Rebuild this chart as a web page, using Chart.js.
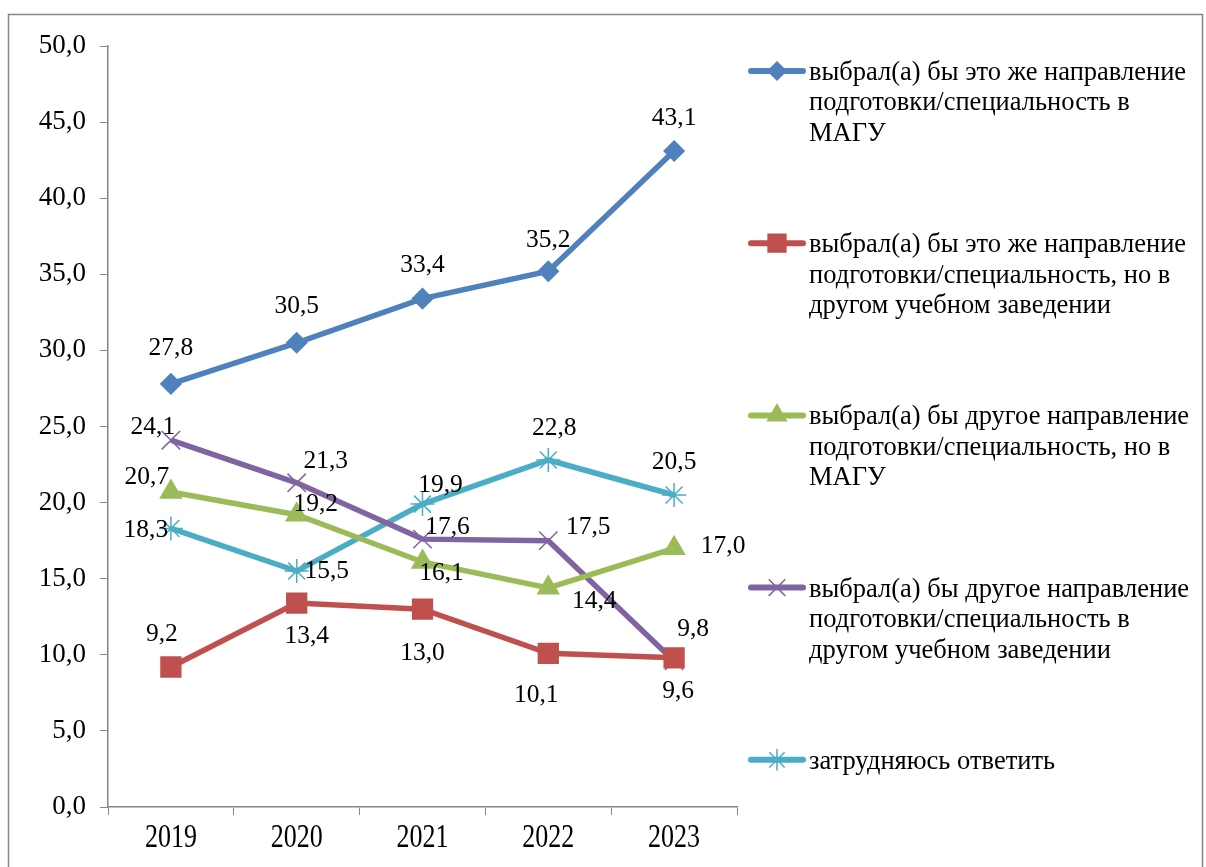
<!DOCTYPE html>
<html>
<head>
<meta charset="utf-8">
<script src="https://cdn.jsdelivr.net/npm/chart.js@4.4.1/dist/chart.umd.min.js"></script>
<style>
body{margin:0;background:#fff;}
#caja{width:1206px;height:867px;}
</style>
</head>
<body>
<div id="caja"><canvas id="miGrafico" width="1206" height="867"></canvas></div>
<script>
// DATOS
const anios = ['2019', '2020', '2021', '2022', '2023'];

const mismoMagu = [27.8, 30.5, 33.4, 35.2, 43.1];
const mismoOtro = [9.2, 13.4, 13.0, 10.1, 9.8];
const otroMagu = [20.7, 19.2, 16.1, 14.4, 17.0];
const otroOtro = [24.1, 21.3, 17.6, 17.5, 9.6];
const dificil = [18.3, 15.5, 19.9, 22.8, 20.5];

const nombres = [
  ['выбрал(а) бы это же направление', 'подготовки/специальность в', 'МАГУ'],
  ['выбрал(а) бы это же направление', 'подготовки/специальность, но в', 'другом учебном заведении'],
  ['выбрал(а) бы другое направление', 'подготовки/специальность, но в', 'МАГУ'],
  ['выбрал(а) бы другое направление', 'подготовки/специальность в', 'другом учебном заведении'],
  ['затрудняюсь ответить']
];

const FUENTE = "'Liberation Serif', 'Times New Roman', serif";
const GRIS = '#868686';

// posicion de las etiquetas respecto al punto (dx, dy)
const desplaz = [
  [[0,-36],[0,-36],[0,-33],[0,-31],[0,-33]],
  [[-9,-33],[10,33],[0,44],[-12,42],[19,-29]],
  [[-24,-15],[19,-10],[19,11],[46,13],[49,-2]],
  [[-18,-13],[29,-22],[25,-12],[40,-13],[4,30]],
  [[-25,2],[30,0],[18,-19],[6,-32],[0,-33]]
];

function fmt(v){
  return v.toFixed(1).replace('.', ',');
}

function serie(nombre, datos, color, estilo, radio){
  return {
    label: nombre.join(' '),
    data: datos,
    borderColor: color,
    backgroundColor: color,
    borderWidth: 5.5,
    pointStyle: estilo,
    pointRadius: radio,
    pointHoverRadius: radio,
    pointBackgroundColor: color,
    pointBorderColor: color,
    pointBorderWidth: 1.5,
    tension: 0
  };
}

// MARCO, ETIQUETAS, LEYENDA
const extras = {
  id: 'extras',
  beforeDraw(chart){
    const c = chart.ctx;
    c.save();
    c.strokeStyle = GRIS;
    c.lineWidth = 1.5;
    c.strokeRect(8.5, 14.5, 1194, 900);
    c.restore();
  },
  afterDraw(chart){
    const c = chart.ctx;
    c.save();
    c.fillStyle = '#000';
    c.textAlign = 'center';
    c.textBaseline = 'middle';

    // etiquetas del eje x
    const ex = chart.scales.x;
    c.font = '26px ' + FUENTE;
    anios.forEach((a, i) => {
      c.save();
      c.translate(ex.getPixelForValue(i), 838);
      c.scale(1, 1.3);
      c.fillText(a, 0, 0);
      c.restore();
    });

    // etiquetas de datos
    c.font = '25.5px ' + FUENTE;
    chart.data.datasets.forEach((ds, i) => {
      const meta = chart.getDatasetMeta(i);
      meta.data.forEach((p, j) => {
        const d = desplaz[i][j];
        c.fillText(fmt(ds.data[j]), p.x + d[0], p.y + d[1]);
      });
    });

    // leyenda
    c.textAlign = 'left';
    c.font = '26.5px ' + FUENTE;
    chart.data.datasets.forEach((ds, i) => {
      const y = 71 + i * 172.2;
      c.strokeStyle = ds.borderColor;
      c.lineWidth = 6;
      c.lineCap = 'round';
      c.beginPath();
      c.moveTo(751, y);
      c.lineTo(803, y);
      c.stroke();
      c.lineCap = 'butt';
      c.fillStyle = ds.borderColor;
      c.lineWidth = 1.5;
      Chart.helpers.drawPoint(c, {pointStyle: ds.pointStyle, radius: ds.pointRadius * 0.9, rotation: 0, borderWidth: 1.5}, 777, y);
      c.fillStyle = '#000';
      nombres[i].forEach((t, k) => {
        c.fillText(t, 809, y + 2 + k * 30.5);
      });
    });
    c.restore();
  }
};

let ctx = document.getElementById('miGrafico').getContext('2d');

let grafico = new Chart(ctx, {
  type: 'line',
  data: {
    labels: anios,
    datasets: [
      serie(nombres[0], mismoMagu, '#4F81BD', 'rectRot', 10),
      serie(nombres[1], mismoOtro, '#C0504D', 'rect', 14),
      serie(nombres[2], otroMagu, '#9BBB59', 'triangle', 12),
      serie(nombres[3], otroOtro, '#8064A2', 'crossRot', 13),
      serie(nombres[4], dificil, '#4BACC6', 'star', 12)
    ]
  },
  options: {
    responsive: false,
    animation: false,
    layout: {padding: {top: 46, right: 469, left: 0, bottom: 0}},
    plugins: {
      legend: {display: false},
      tooltip: {enabled: false}
    },
    scales: {
      x: {
        offset: true,
        grid: {offset: true, drawOnChartArea: false, color: GRIS, tickLength: 8},
        border: {color: GRIS, width: 1.5},
        ticks: {display: false},
        afterFit(s){ s.height = 60; }
      },
      y: {
        min: 0,
        max: 50,
        grid: {drawOnChartArea: false, color: GRIS, tickLength: 8},
        border: {color: GRIS, width: 1.5},
        ticks: {
          stepSize: 5,
          padding: 14,
          color: '#000',
          font: {family: FUENTE, size: 27},
          callback: v => fmt(v)
        },
        afterFit(s){ s.width = 108; }
      }
    }
  },
  plugins: [extras]
});
</script>
</body>
</html>
